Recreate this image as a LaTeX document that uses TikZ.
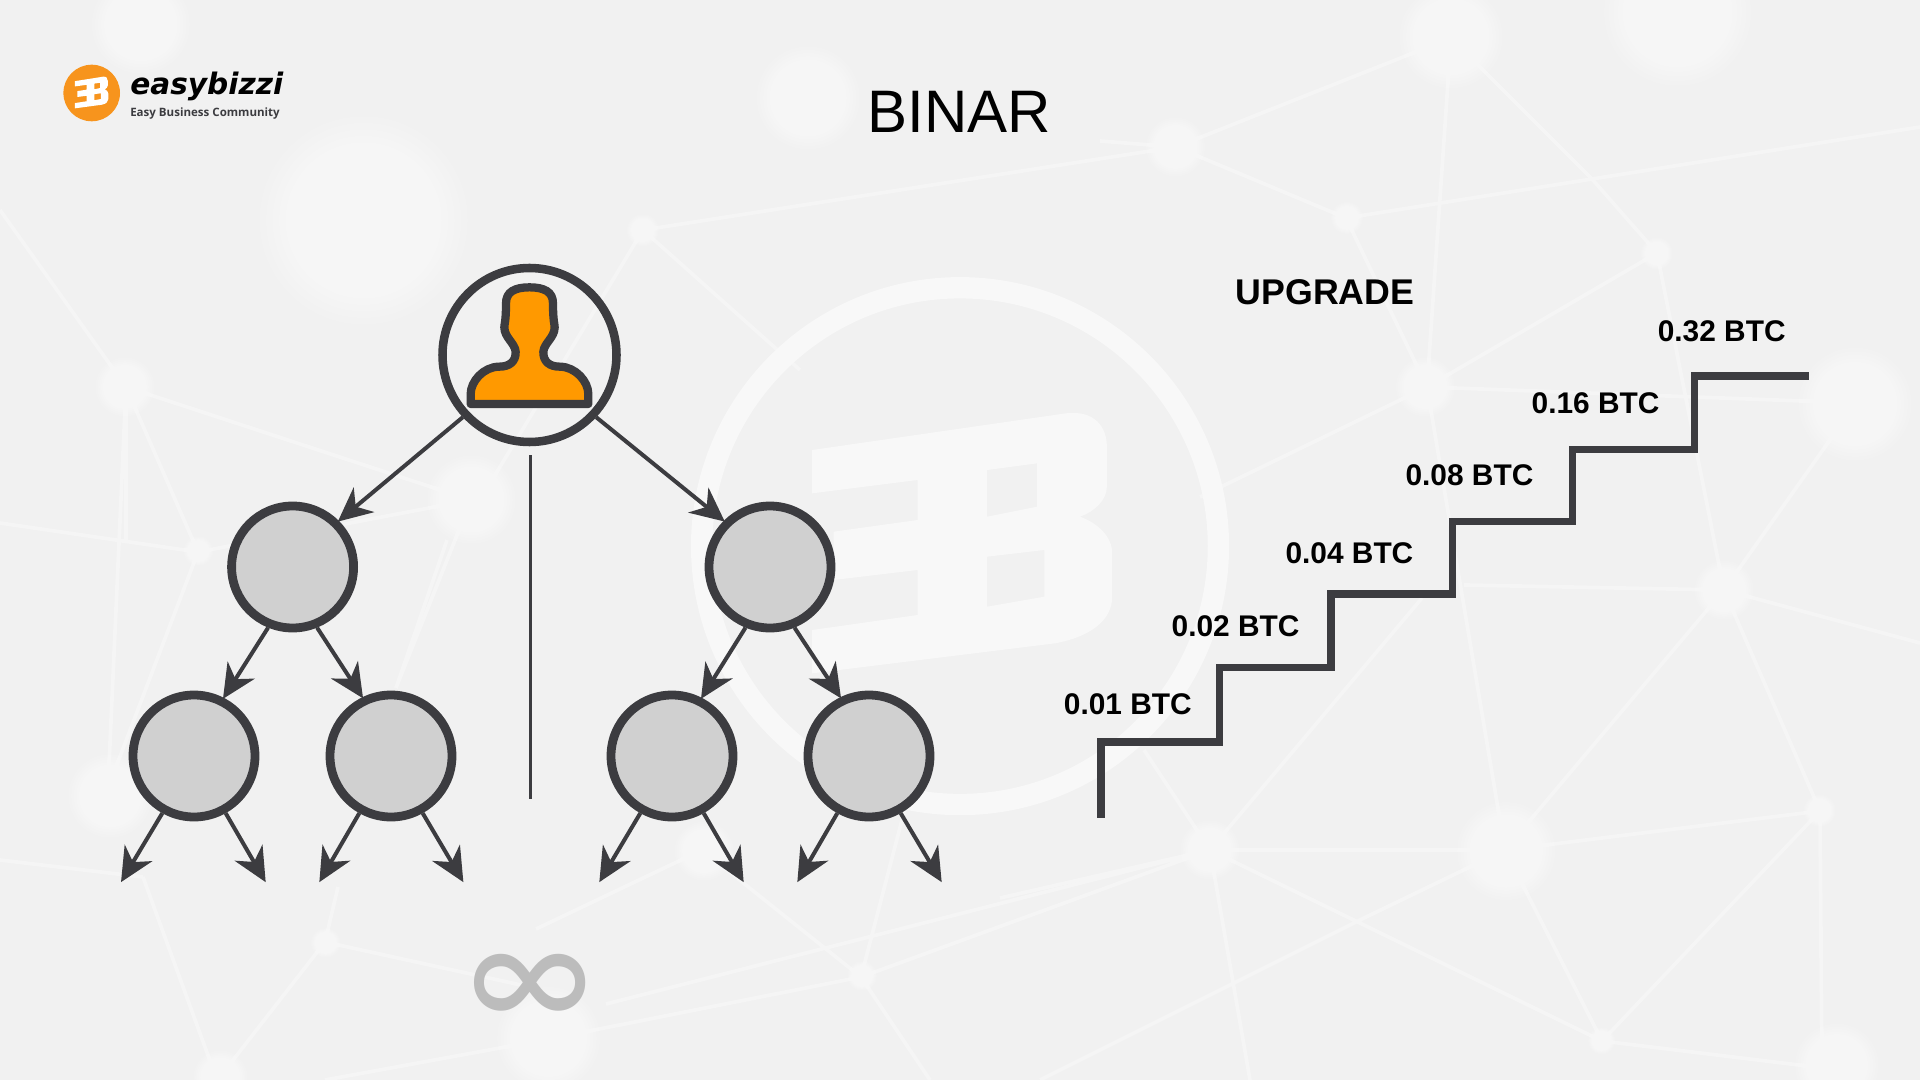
\documentclass[tikz,border=0pt]{standalone}
\usepackage{fontspec}
\setmainfont{Liberation Sans}
\newfontfamily\brandfont{DejaVu Sans}
\newfontfamily\tagfont{Open Sans}
\newfontfamily\inffont{Carlito}
\usetikzlibrary{arrows.meta}
\definecolor{bgc}{HTML}{F1F1F1}
\definecolor{ink}{HTML}{3C3C40}
\definecolor{netc}{HTML}{F5F5F5}
\definecolor{markc}{HTML}{F8F8F8}
\definecolor{nodefill}{HTML}{D0D0D0}
\definecolor{personc}{HTML}{FF9900}
\definecolor{logoc}{HTML}{F7941D}
\definecolor{infc}{HTML}{BCBCBC}
\newcommand{\glowdot}[3]{\foreach \k in {1,...,16}{\fill[white,opacity=.1] (#1,#2) circle ({#3*\k/16});}}
\newcommand{\ebshape}{(370,570) -- (1080,460) .. controls (1160,450) and (1195,500) .. (1195,560) -- (1195,680) .. controls (1195,720) and (1160,755) .. (1120,770) .. controls (1170,790) and (1210,830) .. (1210,880) -- (1210,1010) .. controls (1210,1080) and (1150,1130) .. (1050,1150) -- (370,1240) -- (370,1110) -- (665,1065) -- (665,930) -- (430,960) -- (430,815) -- (665,780) -- (665,660) -- (370,700) -- cycle
(860,630) -- (1000,610) -- (1000,740) -- (860,770) -- cycle
(860,890) -- (1020,870) -- (1020,1010) -- (860,1040) -- cycle}
\tikzset{
  parentc/.style={circle,draw=ink,line width=6.4pt,inner sep=0pt,minimum size=130.5pt},
  childc/.style={circle,draw=ink,fill=nodefill,line width=6.6pt,inner sep=0pt,minimum size=91.5pt},
  link/.style={draw=ink,line width=3pt,-{Stealth[length=25.5pt,width=24pt,inset=8pt]},shorten >=-1pt},
  stairline/.style={draw=ink,line width=5.5pt,miter limit=10},
  pricelabel/.style={font=\fontsize{22.4pt}{26pt}\selectfont\bfseries,text=black,inner sep=0pt},
  netline/.style={draw=netc,line width=2.8pt}
}
\begin{document}
\begin{tikzpicture}[x=.75pt,y=-.75pt]
\useasboundingbox (0,0) rectangle (1920,1080);
\fill[bgc] (0,0) rectangle (1920,1080);
% network background
\draw[netline] (1100,141) -- (1176,147) -- (1451,38);
\draw[netline] (1176,147) -- (1346,218) -- (1592,179) -- (1920,127);
\draw[netline] (1592,179) -- (1657,253) -- (1427,387) -- (1200,497);
\draw[netline] (1592,179) -- (1451,38);
\draw[netline] (1427,387) -- (1856,403) (1451,38) -- (1427,387) -- (1346,218);
\draw[netline] (1657,253) -- (1724,590) (1856,403) -- (1724,590);
\draw[netline] (643,230) -- (1176,147) (643,230) -- (480,500) (643,230) -- (800,370);
\draw[netline] (0,210) -- (126,387) -- (126,540) (126,387) -- (471,500) (126,387) -- (198,552) (0,523) -- (198,552) -- (471,500) -- (396,688);
\draw[netline] (126,387) -- (108,788) (108,788) -- (255,764) (198,552) -- (108,788);
\draw[netline] (1427,387) -- (1505,850) (1210,850) -- (1505,850) -- (1820,811);
\draw[netline] (1000,898) -- (1210,850) -- (1144,750) (1210,850) -- (1422,598) (1505,850) -- (1724,590) -- (1820,811) -- (1822,1080);
\draw[netline] (1210,850) -- (1250,1080) (1505,850) -- (1364,918) -- (1040,1080) (1210,850) -- (1602,1041) (1505,850) -- (1602,1041) -- (1820,811) (1464,585) -- (1724,590) -- (1920,643) (1602,1041) -- (1840,1070);
\draw[netline] (143,877) -- (217,1080) (0,860) -- (143,877) (325,942) -- (530,987) (325,942) -- (338,887) (325,942) -- (223,1073) (861,977) -- (1210,850) (861,977) -- (915,770) (606,1004) -- (1210,850) (702,850) -- (536,929) (549,1039) -- (861,977) (549,1039) -- (325,1080) (702,850) -- (861,977) -- (930,1080) (447,540) -- (396,688);
\begin{scope}[x=.9184pt,y=-.9184pt]
\glowdot{297}{180}{85}\glowdot{660}{80}{42}\glowdot{960}{120}{24}\glowdot{1185}{30}{42}
\glowdot{1100}{178}{13}\glowdot{1353}{207}{13}\glowdot{525}{188}{13}\glowdot{102}{316}{24}
\glowdot{385}{408}{36}\glowdot{162}{450}{12}\glowdot{1164}{316}{24}\glowdot{1515}{330}{46}
\glowdot{1408}{482}{24}\glowdot{988}{694}{24}\glowdot{1230}{695}{40}\glowdot{1486}{662}{13}
\glowdot{266}{770}{12}\glowdot{704}{797}{12}\glowdot{575}{695}{24}\glowdot{90}{650}{34}
\glowdot{1308}{850}{11}\glowdot{448}{848}{42}\glowdot{115}{20}{40}\glowdot{1500}{870}{34}\glowdot{180}{880}{22}\glowdot{1370}{10}{60}
\draw[markc,line width=16pt] (784,446) circle (211);
\end{scope}
% big watermark letters
\begin{scope}[shift={(680,260)},x=.2679pt,y=-.25pt]
\fill[markc,even odd rule] \ebshape;
\end{scope}
% logo
\fill[logoc] (91.7,93) circle (28.3);
\begin{scope}[shift={(60.3,58)},x=.02978pt,y=-.03045pt]
\fill[white,even odd rule] \ebshape;
\end{scope}
\node[anchor=base west,inner sep=0pt,text=black] (brand) at (130,95) {\brandfont\fontsize{22.2pt}{26pt}\selectfont\bfseries\itshape easybizzi};
\node[anchor=base west,inner sep=0pt,text=ink] (tagline) at (130,117) {\tagfont\fontsize{8.65pt}{11pt}\selectfont\bfseries Easy Business Community};
% titles
\node[inner sep=0pt,text=black,font=\fontsize{45pt}{50pt}\selectfont] (title) at (959.5,112) {BINAR};
\node[inner sep=0pt,text=black,font=\fontsize{26.8pt}{30pt}\selectfont\bfseries] (upgrade) at (1325,292) {UPGRADE};
% tree
\node[parentc] (top) at (529.5,355) {};
\node[childc] (l) at (292.6,567) {};
\node[childc] (r) at (770,567) {};
\node[childc] (ll) at (194,756) {};
\node[childc] (lr) at (391,756) {};
\node[childc] (rl) at (672,756) {};
\node[childc] (rr) at (869,756) {};
% person icon
\begin{scope}[shift={(420,250)},x=.25pt,y=-.25pt]
\draw[draw=ink,fill=personc,line width=6.2pt,line join=round] (152,462) -- (152,432) .. controls (152,395) and (190,350) .. (238,350) .. controls (268,350) and (288,335) .. (287,305) .. controls (285,280) and (253,262) .. (253,232) .. controls (253,222) and (258,215) .. (258,160) .. controls (258,125) and (285,112) .. (328.5,112) .. controls (372,112) and (399,125) .. (399,160) .. controls (399,215) and (404,222) .. (404,232) .. controls (404,262) and (372,280) .. (370,305) .. controls (369,335) and (389,350) .. (419,350) .. controls (467,350) and (505,395) .. (505,432) -- (505,462) -- cycle;
\end{scope}
% connectors
\draw[link] (top.223) -- (l.45);
\draw[link] (top.317) -- (r.135);
\draw[link] (l.248) -- (ll.63);
\draw[link] (l.292) -- (lr.116);
\draw[link] (r.248) -- (rl.63);
\draw[link] (r.292) -- (rr.116);
\coordinate (a1) at (121.7,881);
\coordinate (a2) at (265,881);
\coordinate (a3) at (320,881);
\coordinate (a4) at (462.7,881);
\coordinate (a5) at (600,881);
\coordinate (a6) at (743,881);
\coordinate (a7) at (798,881);
\coordinate (a8) at (941,881);
\draw[link] (ll.241) -- (a1);
\draw[link] (ll.299) -- (a2);
\draw[link] (lr.241) -- (a3);
\draw[link] (lr.299) -- (a4);
\draw[link] (rl.241) -- (a5);
\draw[link] (rl.299) -- (a6);
\draw[link] (rr.241) -- (a7);
\draw[link] (rr.299) -- (a8);
\coordinate (v1) at (530.5,455);
\coordinate (v2) at (530.5,799);
\draw[draw=ink,line width=1.9pt] (v1) -- (v2);
\node[inner sep=0pt,text=infc,font=\inffont\fontsize{108pt}{108pt}\selectfont,yscale=1.24,transform shape] (inf) at (529.5,993) {∞};
% stairs
\begin{scope}[x=.9184pt,y=-.9184pt]
\draw[stairline] (899,668) -- (899,606) -- (996,606) -- (996,545) -- (1087,545) -- (1087,485) -- (1186,485) -- (1186,426) -- (1284,426) -- (1284,367) -- (1384,367) -- (1384,307) -- (1477,307);
\node[pricelabel] (p1) at (921,575) {0.01 BTC};
\node[pricelabel] (p2) at (1009,511) {0.02 BTC};
\node[pricelabel] (p3) at (1102,452) {0.04 BTC};
\node[pricelabel] (p4) at (1200,388) {0.08 BTC};
\node[pricelabel] (p5) at (1303,329) {0.16 BTC};
\node[pricelabel] (p6) at (1406,270.5) {0.32 BTC};
\end{scope}
\end{tikzpicture}
\end{document}
